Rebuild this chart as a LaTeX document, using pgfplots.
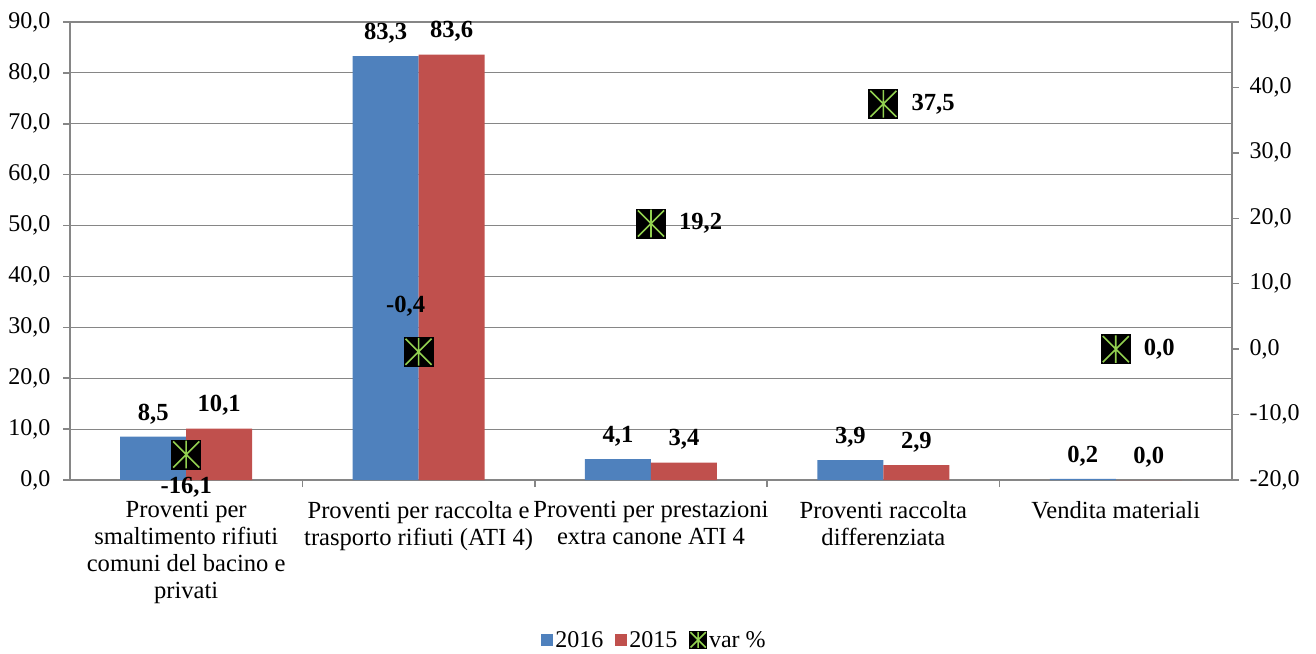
\documentclass[border=0pt]{standalone}
\usepackage{fontspec}
\setmainfont{Liberation Serif}
\usepackage{pgfplots}
\pgfplotsset{compat=1.18}
\definecolor{b16}{RGB}{79,129,189}
\definecolor{r15}{RGB}{192,80,77}
\definecolor{vg}{RGB}{146,208,80}
\definecolor{axg}{RGB}{134,134,134}
\newcommand\fs{\fontsize{24.6}{27}\selectfont}
\newcommand\ft{\fontsize{24}{27}\selectfont}
\pgfdeclareplotmark{varmark}{%
  \pgfpathrectangle{\pgfqpoint{-\pgfplotmarksize}{-\pgfplotmarksize}}{\pgfqpoint{2\pgfplotmarksize}{2\pgfplotmarksize}}%
  \pgfsetfillcolor{black}\pgfsetstrokecolor{black}\pgfsetlinewidth{0.8pt}%
  \pgfusepath{fill,stroke}%
  \pgfsetstrokecolor{vg}\pgfsetlinewidth{1.6pt}%
  \pgfpathmoveto{\pgfqpoint{-0.9\pgfplotmarksize}{-0.9\pgfplotmarksize}}%
  \pgfpathlineto{\pgfqpoint{0.9\pgfplotmarksize}{0.9\pgfplotmarksize}}%
  \pgfpathmoveto{\pgfqpoint{-0.9\pgfplotmarksize}{0.9\pgfplotmarksize}}%
  \pgfpathlineto{\pgfqpoint{0.9\pgfplotmarksize}{-0.9\pgfplotmarksize}}%
  \pgfpathmoveto{\pgfqpoint{0pt}{-0.95\pgfplotmarksize}}%
  \pgfpathlineto{\pgfqpoint{0pt}{0.95\pgfplotmarksize}}%
  \pgfusepath{stroke}%
}
\pgfplotsset{
  numfmt/.style={/pgf/number format/fixed, /pgf/number format/fixed zerofill,
    /pgf/number format/precision=1, /pgf/number format/use comma,
    /pgf/number format/assume math mode=true, /pgf/number format/1000 sep={}},
}
\begin{document}
\begin{tikzpicture}
\path[use as bounding box] (0,0) rectangle (1316pt,653pt);
\begin{axis}[
  at={(70pt,173pt)}, anchor=south west, scale only axis,
  width=1162pt, height=458pt,
  xmin=-0.5, xmax=4.5, ymin=0, ymax=90,
  ybar=0pt, bar width=66pt,
  axis lines*=left, axis line style={axg, line width=1.5pt, -},
  ytick={0,10,...,90}, ymajorgrids, grid style={axg, line width=1.2pt},
  xtick={0,...,4},
  xticklabels={{Proventi per\\smaltimento rifiuti\\comuni del bacino e\\privati},
    {Proventi per raccolta e\\trasporto rifiuti (ATI 4)},
    {Proventi per prestazioni\\extra canone ATI 4},
    {Proventi raccolta\\differenziata},
    {Vendita materiali}},
  major x tick style={draw=none},
  minor xtick={0.5,1.5,2.5,3.5},
  tick align=outside, major tick length=7pt, minor tick length=7pt,
  tick style={axg, line width=1.5pt},
  xticklabel style={font=\fs, align=center, yshift=-11pt},
  yticklabel style={font=\ft, xshift=-9pt},
  numfmt,
  nodes near coords,
  every node near coord/.append style={font=\fs\bfseries, anchor=center, yshift=23pt},
  legend style={at={(0.503,-0.349)}, anchor=center, draw=none, font=\ft,
    legend columns=3, /tikz/every even column/.append style={column sep=10pt}},
  legend cell align=left,
]
\addplot[fill=b16, draw=none,
  legend image code/.code={\fill[b16] (0pt,-6pt) rectangle (12pt,6pt);}]
  coordinates {(0,8.5) (1,83.3) (2,4.1) (3,3.9) (4,0.2)};
\addlegendentry{2016}
\addplot[fill=r15, draw=none,
  legend image code/.code={\fill[r15] (0pt,-6pt) rectangle (12pt,6pt);}]
  coordinates {(0,10.1) (1,83.6) (2,3.4) (3,2.9) (4,0.0)};
\addlegendentry{2015}
\addlegendimage{legend image code/.code={\pgftransformshift{\pgfqpoint{8pt}{0pt}}\pgfsetplotmarksize{8.5pt}\pgfuseplotmark{varmark}}}
\addlegendentry[xshift=5pt]{var \%}
\end{axis}
\begin{axis}[
  at={(70pt,173pt)}, anchor=south west, scale only axis,
  width=1162pt, height=458pt,
  xmin=-0.5, xmax=4.5, ymin=-20, ymax=50,
  axis y line*=right, axis x line=none,
  axis line style={axg, line width=1.5pt, -},
  ytick={-20,-10,...,50},
  tick align=outside, major tick length=7pt,
  tick style={axg, line width=1.5pt},
  yticklabel style={font=\ft, xshift=7pt},
  numfmt, clip=false,
  every node near coord/.append style={font=\fs\bfseries},
]
\addplot[only marks, mark=varmark, mark size=14.5pt, nodes near coords,
  every node near coord/.append style={anchor=center, yshift=-33pt}]
  coordinates {(0,-16.1)};
\addplot[only marks, mark=varmark, mark size=14.5pt, nodes near coords,
  every node near coord/.append style={anchor=center, xshift=-13pt, yshift=46pt}]
  coordinates {(1,-0.4)};
\addplot[only marks, mark=varmark, mark size=14.5pt, nodes near coords,
  every node near coord/.append style={anchor=west, xshift=24pt}]
  coordinates {(2,19.2) (3,37.5) (4,0.0)};
\end{axis}
\end{tikzpicture}
\end{document}
